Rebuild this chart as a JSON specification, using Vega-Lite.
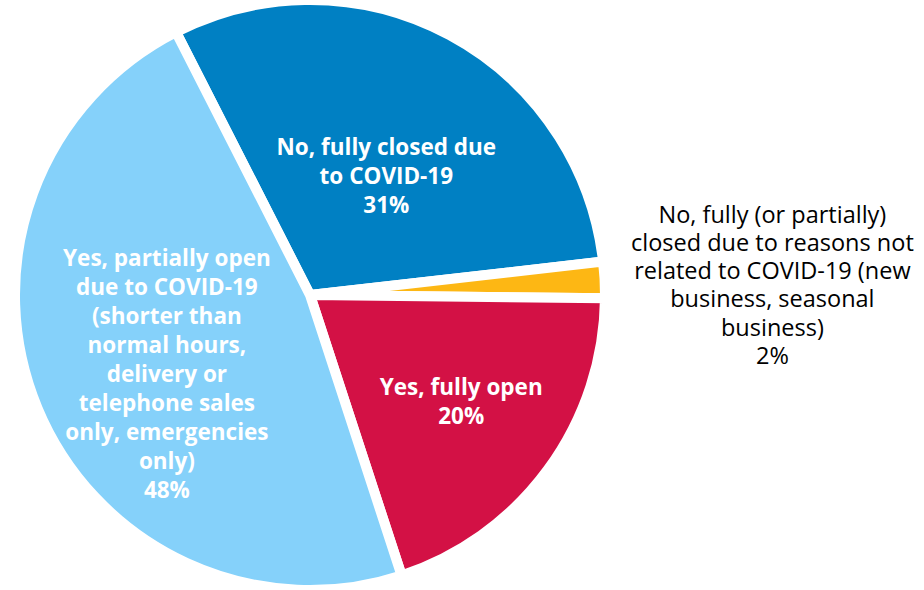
{
  "$schema": "https://vega.github.io/schema/vega-lite/v6.json",
  "width": 620,
  "height": 590,
  "autosize": {"type": "none"},
  "padding": {"left": 0, "top": 0, "bottom": 0, "right": 304},
  "background": "white",
  "view": {"stroke": null},
  "data": {
    "values": [
      {"rank": 1, "cat": "closed", "value": 31, "label": "No, fully closed due\nto COVID-19\n31%"},
      {"rank": 2, "cat": "other", "value": 2, "label": "No, fully (or partially)\nclosed due to reasons not\nrelated to COVID-19 (new\nbusiness, seasonal\nbusiness)\n2%"},
      {"rank": 3, "cat": "open", "value": 20, "label": "Yes, fully open\n20%"},
      {"rank": 4, "cat": "partial", "value": 48, "label": "Yes, partially open\ndue to COVID-19\n(shorter than\nnormal hours,\ndelivery or\ntelephone sales\nonly, emergencies\nonly)\n48%"}
    ]
  },
  "encoding": {
    "theta": {"field": "value", "type": "quantitative", "stack": true, "scale": {"range": [-0.4712, 5.812]}},
    "order": {"field": "rank", "type": "quantitative"}
  },
  "layer": [
    {
      "mark": {"type": "arc", "stroke": "white", "strokeWidth": 10, "strokeJoin": "miter"},
      "encoding": {
        "color": {
          "field": "cat",
          "type": "nominal",
          "scale": {"domain": ["closed", "other", "open", "partial"], "range": ["#0080C3", "#FDB714", "#D31145", "#85D1FA"]},
          "legend": null
        }
      }
    },
    {
      "mark": {"type": "text", "radius": 143, "thetaOffset": 0.07, "dy": -26.5, "lineBreak": "\n", "lineHeight": 29, "font": "Open Sans", "fontSize": 22.5, "fontWeight": "bold", "fill": "white", "align": "center", "baseline": "middle"},
      "encoding": {
        "text": {"condition": {"test": "datum.cat !== 'closed'", "value": ""}, "field": "label"}
      }
    },
    {
      "mark": {"type": "text", "radius": 183, "thetaOffset": -0.035, "dy": -10.5, "lineBreak": "\n", "lineHeight": 29, "font": "Open Sans", "fontSize": 22.5, "fontWeight": "bold", "fill": "white", "align": "center", "baseline": "middle"},
      "encoding": {
        "text": {"condition": {"test": "datum.cat !== 'open'", "value": ""}, "field": "label"}
      }
    },
    {
      "mark": {"type": "text", "radius": 167, "thetaOffset": -0.148, "dy": -122, "lineBreak": "\n", "lineHeight": 29, "font": "Open Sans", "fontSize": 22.5, "fontWeight": "bold", "fill": "white", "align": "center", "baseline": "middle"},
      "encoding": {
        "text": {"condition": {"test": "datum.cat !== 'partial'", "value": ""}, "field": "label"}
      }
    },
    {
      "mark": {"type": "text", "radius": 463, "dy": -55.75, "lineBreak": "\n", "lineHeight": 28.3, "font": "Open Sans", "fontSize": 23.5, "fontWeight": "normal", "fill": "black", "align": "center", "baseline": "middle"},
      "encoding": {
        "text": {"condition": {"test": "datum.cat !== 'other'", "value": ""}, "field": "label"}
      }
    }
  ]
}
